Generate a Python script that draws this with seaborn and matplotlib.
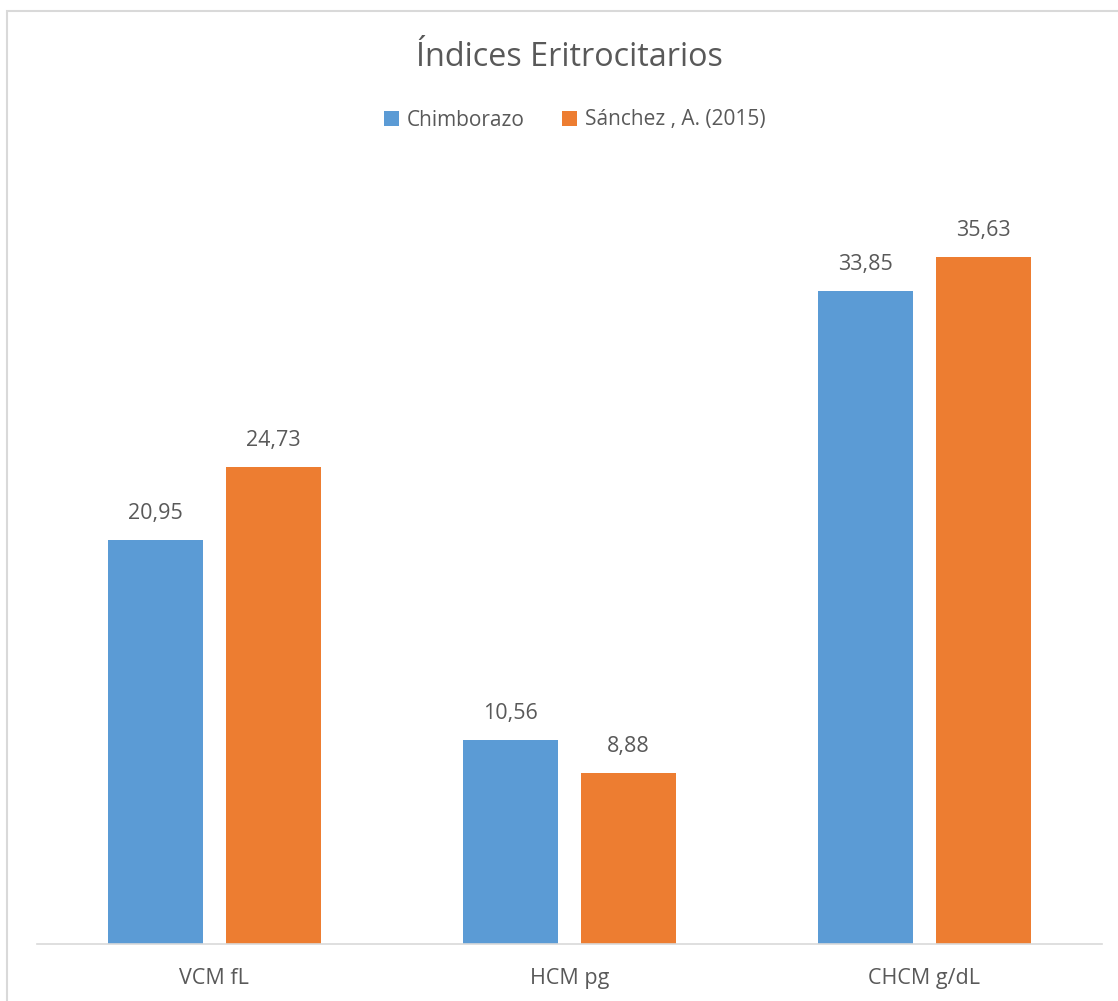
import matplotlib
matplotlib.use("Agg")
import matplotlib.pyplot as plt
import seaborn as sns
import pandas as pd
from matplotlib.patches import Rectangle

categories = ["VCM fL", "HCM pg", "CHCM g/dL"]
series_names = ["Chimborazo", "Sánchez , A. (2015)"]
chimborazo = [20.95, 10.56, 33.85]
sanchez = [24.73, 8.88, 35.63]
title = "Índices Eritrocitarios"

df = pd.DataFrame({
    "cat": categories * 2,
    "serie": [series_names[0]] * 3 + [series_names[1]] * 3,
    "val": chimborazo + sanchez,
})

sns.set_theme(style="white")
plt.rcParams["font.family"] = ["Open Sans", "DejaVu Sans"]
TXT = "#595959"

W, H = 1118, 1001
fig = plt.figure(figsize=(W / 100, H / 100), dpi=100)
ax = fig.add_axes([37 / W, 1 - 944 / H, (1101.5 - 37) / W, 771.2 / H])

palette = {series_names[0]: "#5B9BD5", series_names[1]: "#ED7D31"}
sns.barplot(data=df, x="cat", y="val", hue="serie", order=categories,
            hue_order=series_names, palette=palette, width=0.665, gap=0.195,
            saturation=1, ax=ax, edgecolor="none", linewidth=0)

ax.set_ylim(0, 40)
ax.set_xlim(-0.5, 2.5)
for c in ax.containers:
    ax.bar_label(c, labels=[f"{v:.2f}".replace(".", ",") for v in c.datavalues],
                 padding=11.5, fontsize=15.5, color=TXT)

ax.set_xlabel("")
ax.set_ylabel("")
ax.set_yticks([])
ax.tick_params(axis="x", length=0, labelsize=15.5, labelcolor=TXT, pad=17)
for s in ["top", "right", "left"]:
    ax.spines[s].set_visible(False)
ax.spines["bottom"].set_color("#D9D9D9")
ax.spines["bottom"].set_linewidth(1.2)

sns.move_legend(ax, "center", bbox_to_anchor=(575 / W, 1 - 120 / H),
                bbox_transform=fig.transFigure, ncol=2, frameon=False,
                title=None, fontsize=15, handlelength=0.7, handleheight=0.7,
                handletextpad=0.4, columnspacing=1.8, labelcolor=TXT)

fig.text(569 / W, 1 - 57 / H, title, ha="center", va="center",
         fontsize=23.3, color=TXT)

fig.patches.append(Rectangle((7 / W, -0.1), 1.2, 1 - 11 / H + 0.1,
                             transform=fig.transFigure, fill=False,
                             edgecolor="#D9D9D9", linewidth=1.5))

fig.savefig("out.png", dpi=100, facecolor="white")
